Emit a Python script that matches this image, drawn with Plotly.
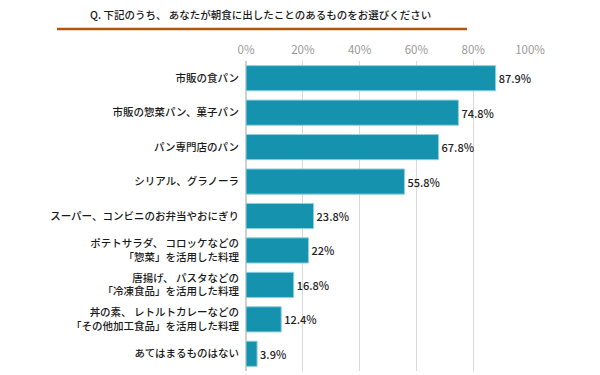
import plotly.graph_objects as go

categories = [
    "市販の食パン",
    "市販の惣菜パン、菓子パン",
    "パン専門店のパン",
    "シリアル、グラノーラ",
    "スーパー、コンビニのお弁当やおにぎり",
    "ポテトサラダ、 コロッケなどの<br>「惣菜」を活用した料理",
    "唐揚げ、 パスタなどの<br>「冷凍食品」を活用した料理",
    "丼の素、 レトルトカレーなどの<br>「その他加工食品」を活用した料理",
    "あてはまるものはない",
]
values = [87.9, 74.8, 67.8, 55.8, 23.8, 22, 16.8, 12.4, 3.9]
tick_vals = [0, 20, 40, 60, 80, 100]
tick_text = ["0%", "20%", "40%", "60%", "80%", "100%"]
title = "Q. 下記のうち、 あなたが朝食に出したことのあるものをお選びください"

FONT = "Noto Sans CJK JP"

L, R, T, B = 246, 530, 61, 371
W, H = R - L, B - T

fig = go.Figure(go.Bar(
    y=categories,
    x=values,
    orientation="h",
    marker=dict(color="#1592ad", line=dict(color="#8fd0dd", width=1)),
    text=[f"{v:g}%" for v in values],
    textposition="outside",
    textfont=dict(family=FONT, size=11, color="#222222", weight=500),
    cliponaxis=False,
))

fig.update_layout(
    width=600, height=375,
    margin=dict(l=L, r=600 - R, t=T, b=375 - B, autoexpand=False),
    paper_bgcolor="white",
    plot_bgcolor="white",
    bargap=0.27,
    showlegend=False,
    font=dict(family=FONT),
    xaxis=dict(
        range=[0, 100],
        side="top",
        automargin=False,
        tickvals=tick_vals,
        ticktext=tick_text,
        tickfont=dict(family=FONT, size=11.5, color="#9a9a9a"),
        showgrid=True,
        gridcolor="#d9d9d9",
        gridwidth=1,
        zeroline=True,
        zerolinecolor="#d0d0d0",
        showline=False,
        ticks="",
        ticklabelstandoff=4,
    ),
    yaxis=dict(
        autorange="reversed",
        automargin=False,
        tickfont=dict(family=FONT, size=10.5, color="#1a1a1a", weight=500),
        ticks="",
        showline=False,
        ticklabelstandoff=6,
    ),
    annotations=[dict(
        text=title, xref="paper", yref="paper",
        x=(260 - L) / W, y=1 + (T - 15) / H,
        xanchor="center", yanchor="middle", showarrow=False,
        font=dict(family=FONT, size=10.5, color="#1a1a1a", weight=500),
    )],
    shapes=[dict(
        type="line", xref="paper", yref="paper",
        x0=(57 - L) / W, x1=(467 - L) / W,
        y0=1 + (T - 29) / H, y1=1 + (T - 29) / H,
        line=dict(color="#b5540f", width=2.5),
    )],
)

fig.write_html("out.html", post_script="document.body.style.margin='0';",
               config={"displayModeBar": False})
